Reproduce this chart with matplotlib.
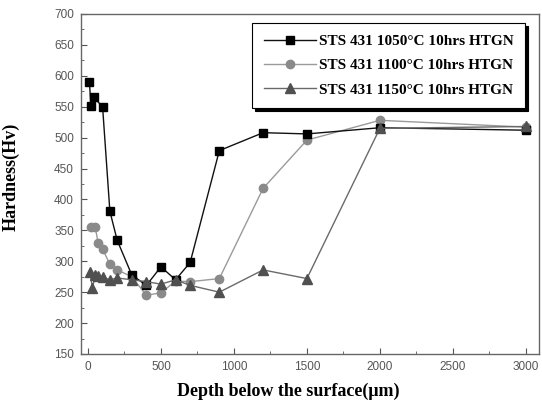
import matplotlib
matplotlib.use("Agg")
import matplotlib.pyplot as plt
from matplotlib.ticker import MultipleLocator

# Data
x1 = [10, 20, 40, 100, 150, 200, 300, 400, 500, 600, 700, 900, 1200, 1500, 2000, 3000]
y1 = [590, 551, 565, 550, 381, 334, 278, 261, 291, 270, 298, 479, 508, 506, 516, 512]

x2 = [20, 50, 70, 100, 150, 200, 300, 400, 500, 600, 700, 900, 1200, 1500, 2000, 3000]
y2 = [355, 355, 329, 320, 295, 286, 275, 245, 249, 268, 267, 272, 418, 496, 528, 517]

x3 = [15, 30, 50, 70, 100, 150, 200, 300, 400, 500, 600, 700, 900, 1200, 1500, 2000, 3000]
y3 = [283, 256, 278, 276, 274, 270, 273, 270, 267, 263, 270, 261, 250, 286, 272, 515, 518]

labels = ["STS 431 1050°C 10hrs HTGN",
          "STS 431 1100°C 10hrs HTGN",
          "STS 431 1150°C 10hrs HTGN"]

fig = plt.figure(figsize=(5.42, 4.09), dpi=100)
ax = fig.add_axes([0.1494, 0.1345, 0.845, 0.8313])

ax.plot(x1, y1, color="#111111", lw=1.0, marker="s", ms=6, mfc="black", mec="black", label=labels[0], zorder=3)
ax.plot(x2, y2, color="#9a9a9a", lw=1.0, marker="o", ms=6, mfc="#8a8a8a", mec="#8a8a8a", label=labels[1], zorder=2)
ax.plot(x3, y3, color="#6a6a6a", lw=1.0, marker="^", ms=7, mfc="#505050", mec="#505050", label=labels[2], zorder=4)

ax.set_xlim(-48, 3090)
ax.set_ylim(150, 700)
ax.xaxis.set_major_locator(MultipleLocator(500))
ax.xaxis.set_minor_locator(MultipleLocator(250))
ax.yaxis.set_major_locator(MultipleLocator(50))
ax.yaxis.set_minor_locator(MultipleLocator(25))
ax.tick_params(which="both", direction="in", color="#555555", top=False, right=False)
ax.tick_params(which="major", length=4, labelsize=8.5, labelcolor="#555555", pad=5)
ax.tick_params(which="minor", length=2)
for lab in ax.get_xticklabels() + ax.get_yticklabels():
    lab.set_family("Liberation Sans")
for s in ax.spines.values():
    s.set_color("#666666")
    s.set_linewidth(1.0)

ax.set_xlabel("Depth below the surface(μm)", family="Liberation Serif", fontweight="bold", fontsize=13)
ax.set_ylabel("Hardness(Hv)", family="Liberation Serif", fontweight="bold", fontsize=13)
ax.xaxis.set_label_coords(0.452, -0.085)
ax.yaxis.set_label_coords(-0.135, 0.52)

leg = ax.legend(loc="upper right", bbox_to_anchor=(0.969, 0.974), borderaxespad=0.0, fancybox=False,
                shadow={"color": "black", "alpha": 1.0}, framealpha=1, edgecolor="black",
                prop={"family": "Liberation Serif", "weight": "bold", "size": 11},
                handlelength=3.4, handletextpad=0.2, borderpad=0.75, labelspacing=0.7)
leg.get_frame().set_linewidth(0.8)

fig.savefig("out.png", dpi=100)
